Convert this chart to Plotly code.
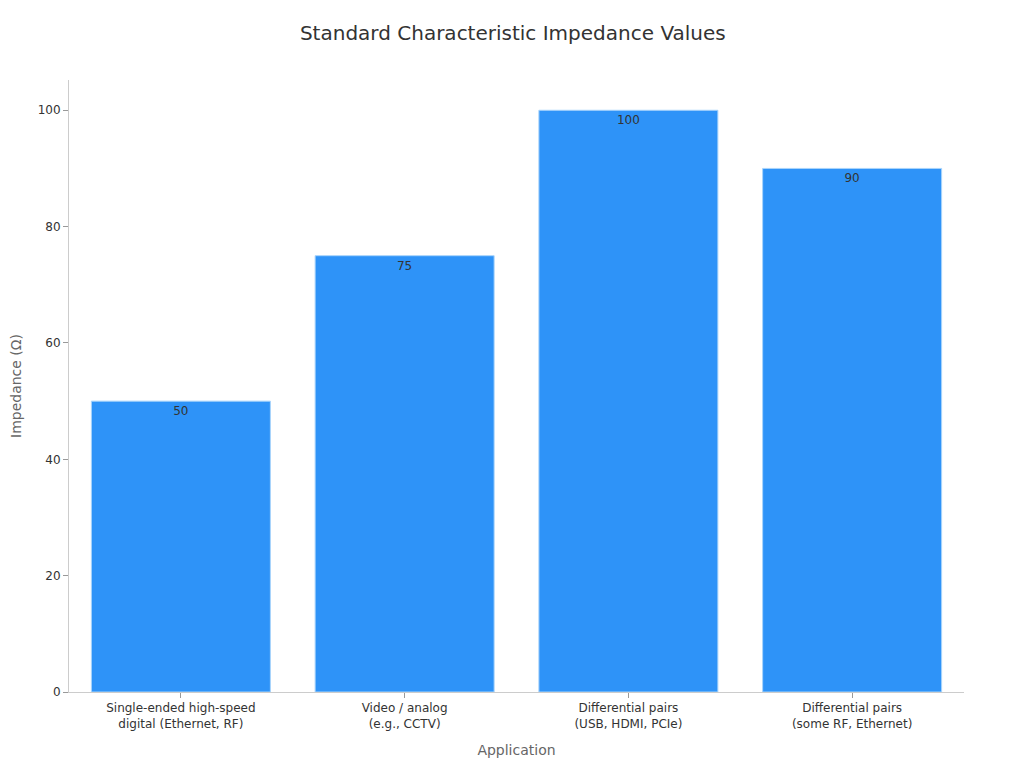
import plotly.graph_objects as go

applications = [
    "Single-ended high-speed<br>digital (Ethernet, RF)",
    "Video / analog<br>(e.g., CCTV)",
    "Differential pairs<br>(USB, HDMI, PCIe)",
    "Differential pairs<br>(some RF, Ethernet)",
]
impedance = [50, 75, 100, 90]

fig = go.Figure(
    go.Bar(
        x=applications,
        y=impedance,
        text=impedance,
        textposition="inside",
        insidetextanchor="end",
        textfont=dict(color="#333333", size=12),
        marker=dict(color="#2E93F8", line=dict(color="#A9D4FB", width=1)),
    )
)

fig.update_layout(
    title=dict(text="Standard Characteristic Impedance Values", x=0.493, y=0.9674,
               xanchor="center", yanchor="middle",
               font=dict(size=20, color="#333333")),
    font=dict(family="DejaVu Sans", color="#333333"),
    width=1024, height=768,
    margin=dict(l=61, r=68, t=72, b=84),
    plot_bgcolor="white", paper_bgcolor="white",
    bargap=0.2,
    showlegend=False,
)
fig.update_xaxes(
    title=dict(text="Application", font=dict(size=14, color="#666666")),
    showline=True, linecolor="#cccccc", ticks="outside", tickcolor="#999999",
    ticklen=5, tickfont=dict(size=12), automargin=False,
)
fig.update_yaxes(
    title=dict(text="Impedance (Ω)", font=dict(size=14, color="#666666")),
    range=[0, 105.2], dtick=20, showgrid=False, zeroline=False,
    showline=True, linecolor="#cccccc", ticks="outside", tickcolor="#999999",
    ticklen=5, tickfont=dict(size=12), automargin=False,
)

fig.write_html("out.html")
